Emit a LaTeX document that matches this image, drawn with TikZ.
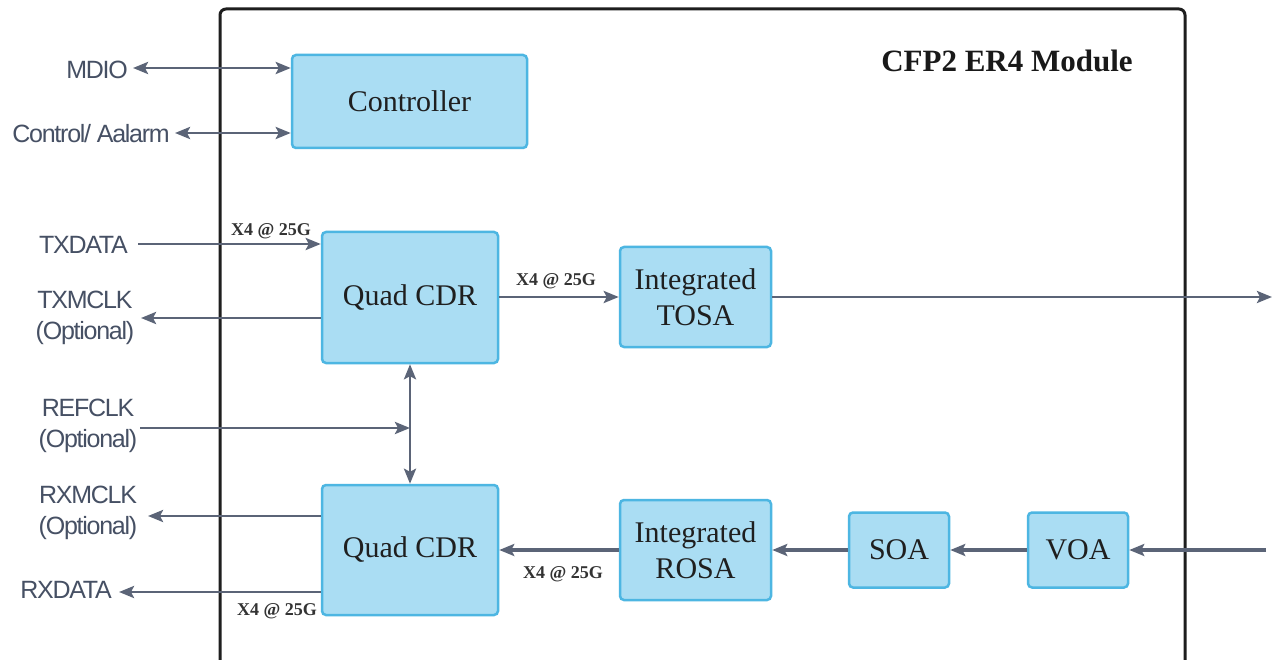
\documentclass[tikz,border=0pt]{standalone}
\usepackage{fontspec}
\setmainfont{Liberation Serif}
\newfontfamily\labelfont[LetterSpace=-5]{Liberation Sans}
\usetikzlibrary{arrows.meta}

\definecolor{boxfill}{HTML}{AADDF3}
\definecolor{boxline}{HTML}{4DB6E2}
\definecolor{wire}{HTML}{5B6477}
\definecolor{labeltext}{HTML}{465064}
\definecolor{frameline}{HTML}{1E1E1E}

\tikzset{
  block/.style={draw=boxline, fill=boxfill, line width=2.5pt, rounded corners=4pt,
    font=\fontsize{30}{36}\selectfont, text=black!88, align=center, inner sep=0pt},
  sig/.style={text=labeltext, font=\labelfont\fontsize{25}{31}\selectfont,
    align=center, inner sep=0pt},
  rate/.style={font=\bfseries\fontsize{18}{20}\selectfont, text=black!80, inner sep=0pt},
  wireline/.style={draw=wire, line width=2.8pt},
  thickwire/.style={draw=wire, line width=3.8pt},
  tip/.style={-{Stealth[length=15pt,width=12pt,inset=3pt]}},
  bitip/.style={{Stealth[length=15pt,width=12pt,inset=3pt]}-{Stealth[length=15pt,width=12pt,inset=3pt]}},
}

\begin{document}
\begin{tikzpicture}[x=1pt, y=-1pt]
  \useasboundingbox (0,0) rectangle (1273,660);
  \fill[white] (0,0) rectangle (1273,660);

  % module enclosure (continues below the lower edge)
  \begin{scope}
    \clip (0,0) rectangle (1273,660);
    \draw[frameline, line width=3pt, rounded corners=6pt] (220,690) -- (220,9) -- (1185,9) -- (1185,690);
  \end{scope}
  \node[font=\bfseries\fontsize{31}{36}\selectfont, text=black!90] (title) at (1007,61) {CFP2 ER4 Module};

  % functional blocks
  \node[block, minimum width=235pt, minimum height=93pt]  (ctrl) at (409.5,101.5) {Controller};
  \node[block, minimum width=176pt, minimum height=131pt] (cdrT) at (410,297.5)  {Quad CDR};
  \node[block, minimum width=176pt, minimum height=130pt] (cdrB) at (410,550)    {Quad CDR};
  \node[block, minimum width=151pt, minimum height=100pt] (tosa) at (695.5,297)  {Integrated\\TOSA};
  \node[block, minimum width=151pt, minimum height=100pt] (rosa) at (695.5,550)  {Integrated\\ROSA};
  \node[block, minimum width=100pt, minimum height=75pt]  (soa)  at (899,550)    {SOA};
  \node[block, minimum width=100pt, minimum height=75pt]  (voa)  at (1078,550)   {VOA};

  % host-side signal names
  \node[sig, anchor=east] (mdio)  at (128,70)  {MDIO};
  \node[sig, anchor=east] (ctl)   at (170,134) {Control/ Aalarm};
  \node[sig, anchor=east] (txd)   at (128,245) {TXDATA};
  \node[sig] (txclk)  at (85,318)  {TXMCLK\\(Optional)};
  \node[sig] (refclk) at (88,426)  {REFCLK\\(Optional)};
  \node[sig] (rxclk)  at (88,513)  {RXMCLK\\(Optional)};
  \node[sig, anchor=east] (rxd)   at (112,590) {RXDATA};

  % free ends of the host and line connections
  \coordinate (mdioEnd) at (133,68);
  \coordinate (ctlEnd)  at (175,133);
  \coordinate (txdEnd)  at (138,244);
  \coordinate (txcEnd)  at (141,318);
  \coordinate (refEnd)  at (140,428);
  \coordinate (rxcEnd)  at (148,516);
  \coordinate (rxdEnd)  at (119,592);
  \coordinate (lineOut) at (1272,297);
  \coordinate (lineIn)  at (1266,550);

  % management interface
  \draw[wireline, bitip] (mdioEnd) -- (ctrl.west |- mdioEnd);
  \draw[wireline, bitip] (ctlEnd) -- (ctrl.west |- ctlEnd);

  % transmit side
  \draw[wireline, tip] (txdEnd) -- (cdrT.west |- txdEnd);
  \draw[wireline, tip] (cdrT.west |- txcEnd) -- (txcEnd);
  \draw[wireline, tip] (cdrT.east |- tosa.west) -- (tosa.west);
  \draw[wireline, tip] (tosa.east) -- (lineOut);

  % reference clock and CDR link
  \draw[wireline, bitip] (cdrT.south) -- (cdrB.north);
  \draw[wireline, tip] (refEnd) -- (cdrT.south |- refEnd);

  % receive side
  \draw[wireline, tip] (cdrB.west |- rxcEnd) -- (rxcEnd);
  \draw[wireline, tip] (cdrB.west |- rxdEnd) -- (rxdEnd);
  \draw[thickwire, tip] (lineIn) -- (voa.east);
  \draw[thickwire, tip] (voa.west) -- (soa.east);
  \draw[thickwire, tip] (soa.west) -- (rosa.east);
  \draw[thickwire, tip] (rosa.west) -- (cdrB.east |- rosa.west);

  % lane rate annotations
  \node[rate] (r1) at (271,231) {X4 @ 25G};
  \node[rate] (r2) at (556,281) {X4 @ 25G};
  \node[rate] (r3) at (563,574) {X4 @ 25G};
  \node[rate] (r4) at (277,611) {X4 @ 25G};
\end{tikzpicture}
\end{document}
